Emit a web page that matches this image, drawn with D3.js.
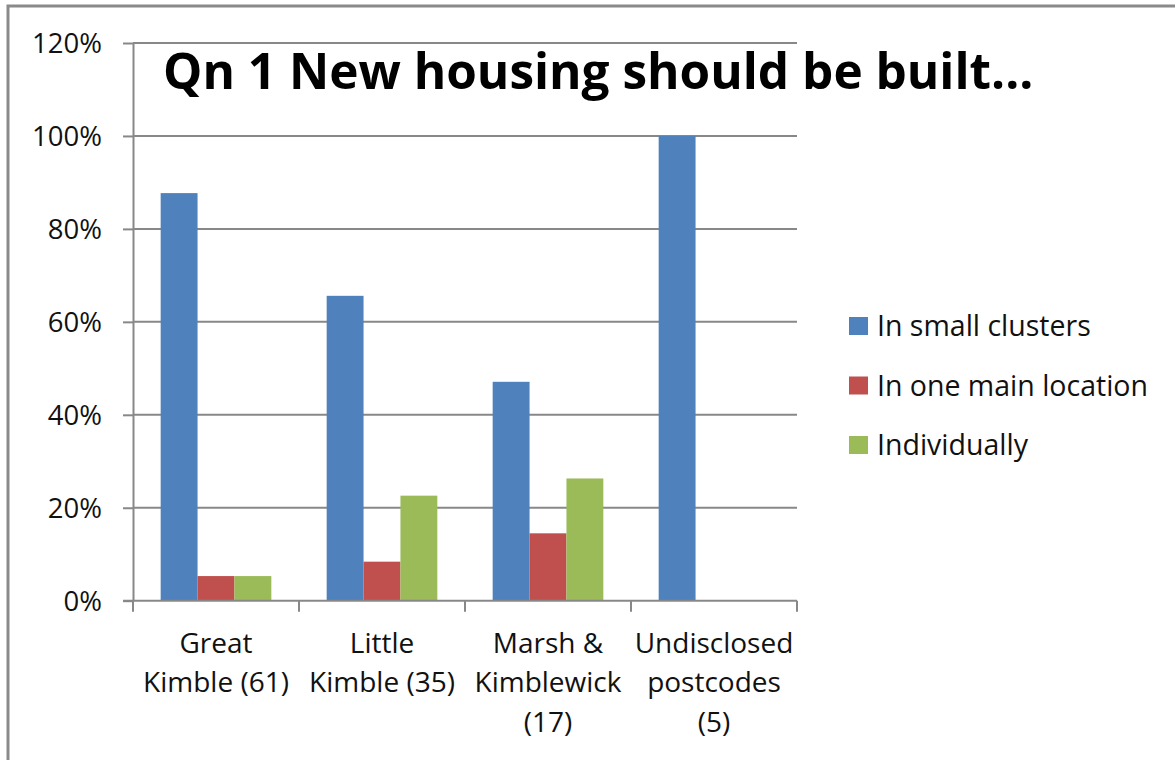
<!DOCTYPE html>
<html lang="en">
<head>
  <meta charset="UTF-8">
  <title>Qn 1 New housing should be built...</title>
  <script src="https://d3js.org/d3.v7.min.js"></script>
  <style>
    body {
      margin: 0;
      padding: 0;
      background: #fff;
    }

    text {
      font-family: "Open Sans", sans-serif;
      fill: #111;
    }

    .grid line {
      stroke: #888;
      stroke-width: 2px;
    }

    .axis path, .axis line {
      stroke: #888;
      stroke-width: 2px;
    }
  </style>
</head>
<body>
  <div id="chart"></div>

  <script>
const categories = [
  ["Great", "Kimble (61)"],
  ["Little", "Kimble (35)"],
  ["Marsh &", "Kimblewick", "(17)"],
  ["Undisclosed", "postcodes", "(5)"]
];
const seriesNames = ["In small clusters", "In one main location", "Individually"];
const inSmallClusters = [87.7, 65.6, 47.1, 100];
const inOneMainLocation = [5.3, 8.4, 14.5, 0];
const individually = [5.3, 22.6, 26.3, 0];
const yTicks = [0, 20, 40, 60, 80, 100, 120];
const colors = ["#4f81bd", "#c0504d", "#9bbb59"];

const seriesValues = [inSmallClusters, inOneMainLocation, individually];

    const width = 1175;
    const height = 760;
    const margin = { left: 133, right: 378, top: 43, bottom: 159.3 };

    const svg = d3.select("#chart")
      .append("svg")
      .attr("width", width)
      .attr("height", height);

    // chart frame (cut off at right and bottom like the original)
    svg.append("rect")
      .attr("x", 8)
      .attr("y", 6)
      .attr("width", width + 20)
      .attr("height", height + 20)
      .attr("fill", "none")
      .attr("stroke", "#8a8a8a")
      .attr("stroke-width", 3);

    const catKeys = categories.map((d, i) => i);

    const x0 = d3.scaleBand()
      .domain(catKeys)
      .range([margin.left, width - margin.right])
      .paddingInner(0)
      .paddingOuter(0);

    // gap width 150% -> 0.75 bar each side
    const x1 = d3.scaleBand()
      .domain(seriesNames)
      .range([0, x0.bandwidth()])
      .paddingInner(0)
      .paddingOuter(0.75);

    const y = d3.scaleLinear()
      .domain([0, 120])
      .range([height - margin.bottom, margin.top]);

    // gridlines
    svg.append("g")
      .attr("class", "grid")
      .selectAll("line")
      .data(yTicks.filter(d => d > 0))
      .join("line")
      .attr("x1", margin.left)
      .attr("x2", width - margin.right)
      .attr("y1", d => y(d))
      .attr("y2", d => y(d));

    // bars
    const groups = svg.append("g")
      .selectAll("g")
      .data(catKeys)
      .join("g")
      .attr("transform", d => `translate(${x0(d)},0)`);

    groups.selectAll("rect")
      .data(i => seriesNames.map((s, k) => ({ s, k, v: seriesValues[k][i] })))
      .join("rect")
      .attr("x", d => x1(d.s))
      .attr("width", x1.bandwidth())
      .attr("y", d => y(d.v))
      .attr("height", d => y(0) - y(d.v))
      .attr("fill", d => colors[d.k]);

    // y axis
    const yAxis = svg.append("g")
      .attr("class", "axis")
      .attr("transform", `translate(${margin.left},0)`)
      .call(d3.axisLeft(y)
        .tickValues(yTicks)
        .tickSize(10)
        .tickSizeOuter(0)
        .tickPadding(21)
        .tickFormat(d => d + "%"));

    yAxis.selectAll("text")
      .style("font-size", "27.5px")
      .attr("dy", "0.36em");

    // x axis line with ticks between categories
    const xAxis = svg.append("g").attr("class", "axis");

    xAxis.append("line")
      .attr("x1", margin.left - 10)
      .attr("x2", width - margin.right)
      .attr("y1", y(0))
      .attr("y2", y(0));

    xAxis.selectAll("line.tick")
      .data(catKeys.map(d => x0(d)).concat([x0.range()[1]]))
      .join("line")
      .attr("class", "tick")
      .attr("x1", d => d)
      .attr("x2", d => d)
      .attr("y1", y(0))
      .attr("y2", y(0) + 11);

    const labels = xAxis.selectAll("text")
      .data(catKeys)
      .join("text")
      .attr("text-anchor", "middle")
      .style("font-size", "28px")
      .attr("transform", d => `translate(${x0(d) + x0.bandwidth() / 2},${y(0) + 52})`);

    labels.selectAll("tspan")
      .data(d => categories[d])
      .join("tspan")
      .attr("x", 0)
      .attr("y", (d, i) => i * 39.5)
      .text(d => d);

    // legend
    const legend = svg.append("g")
      .attr("transform", "translate(849,326)")
      .selectAll("g")
      .data(seriesNames)
      .join("g")
      .attr("transform", (d, i) => `translate(0,${i * 59.5})`);

    legend.append("rect")
      .attr("x", 0)
      .attr("y", -9)
      .attr("width", 19)
      .attr("height", 18)
      .attr("fill", (d, i) => colors[i]);

    legend.append("text")
      .attr("x", 28)
      .attr("dy", "0.36em")
      .style("font-size", "28.5px")
      .text(d => d);

    // title
    svg.append("text")
      .attr("x", 163)
      .attr("y", 89)
      .style("font-size", "49.5px")
      .style("font-weight", "bold")
      .style("fill", "#000")
      .text("Qn 1 New housing should be built...");
  </script>
</body>
</html>
